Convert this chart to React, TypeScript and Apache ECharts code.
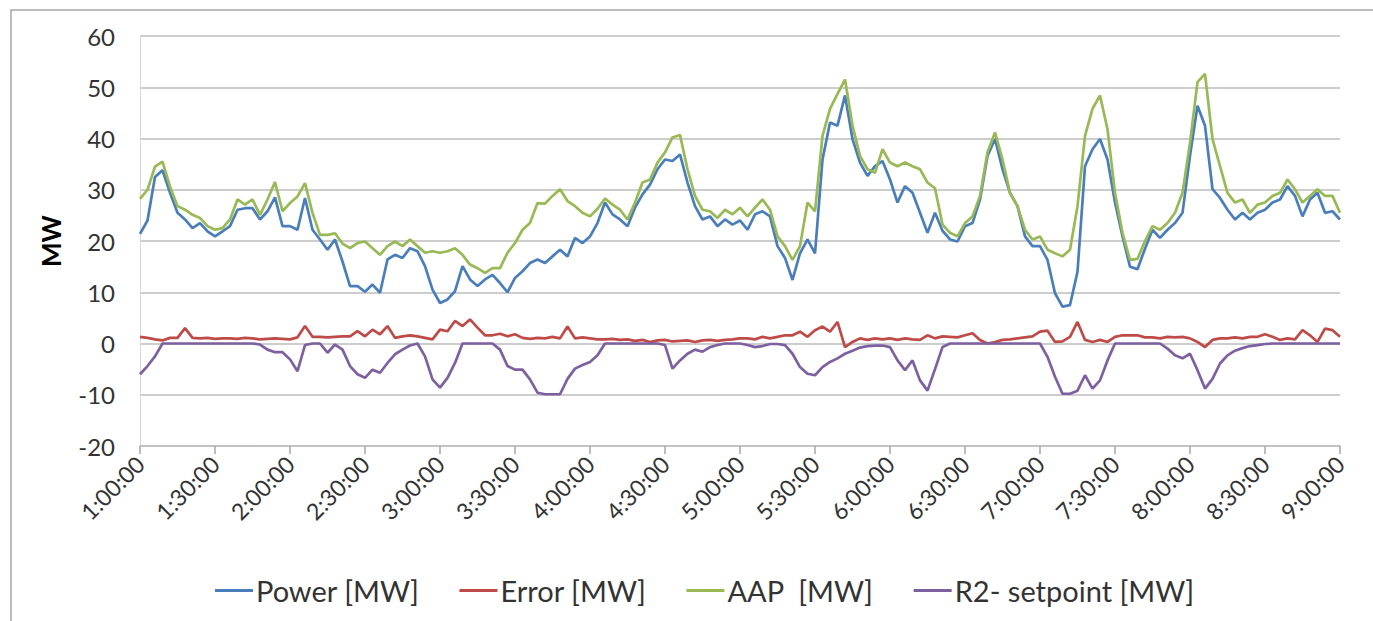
import React, { useEffect, useRef } from "react";
import * as echarts from "echarts";

// 3-minute samples from 1:00:00 to 9:00:00 (161 points)
const power = [
  21.4, 24.0, 32.5, 33.8, 29.4, 25.5, 24.2, 22.5, 23.5, 21.9,
  20.9, 21.9, 22.9, 26.1, 26.4, 26.4, 24.2, 25.8, 28.5, 22.9,
  22.9, 22.2, 28.4, 22.2, 20.3, 18.3, 20.3, 16.0, 11.2, 11.2,
  10.1, 11.5, 9.9, 16.4, 17.3, 16.7, 18.6, 18.0, 15.1, 10.5,
  7.9, 8.6, 10.2, 15.1, 12.5, 11.2, 12.5, 13.4, 11.8, 10.0,
  12.8, 14.1, 15.7, 16.4, 15.7, 17.0, 18.3, 17.0, 20.6, 19.6,
  20.9, 23.5, 27.5, 25.2, 24.2, 22.9, 26.5, 29.1, 31.0, 34.0,
  35.9, 35.6, 36.9, 31.4, 26.8, 24.2, 24.8, 22.9, 24.2, 23.2,
  24.0, 22.2, 25.2, 25.8, 24.8, 19.0, 16.7, 12.4, 17.6, 20.3,
  17.6, 35.9, 43.1, 42.5, 48.4, 39.9, 35.3, 32.7, 34.6, 35.6,
  32.0, 27.5, 30.7, 29.4, 25.5, 21.6, 25.5, 22.0, 20.3, 19.9,
  22.9, 23.5, 28.1, 36.6, 39.9, 34.0, 29.4, 26.8, 20.9, 19.0,
  19.0, 16.3, 9.8, 7.2, 7.5, 14.0, 34.6, 37.9, 39.9, 35.9,
  27.5, 20.9, 15.0, 14.5, 18.5, 22.2, 20.6, 22.2, 23.5, 25.5,
  36.6, 46.4, 42.5, 30.1, 28.4, 26.1, 24.2, 25.5, 24.2, 25.5,
  26.1, 27.5, 28.1, 30.7, 28.8, 24.8, 28.1, 29.4, 25.5, 25.8,
  24.2,
];

const errorMw = [
  1.3, 1.1, 0.8, 0.6, 1.1, 1.1, 3.0, 1.1, 1.0, 1.1,
  0.9, 1.0, 1.0, 0.9, 1.1, 1.0, 0.8, 0.9, 1.0, 0.9,
  0.8, 1.2, 3.4, 1.3, 1.3, 1.2, 1.3, 1.4, 1.4, 2.4,
  1.4, 2.7, 1.8, 3.4, 1.1, 1.4, 1.6, 1.4, 1.1, 0.8,
  2.7, 2.4, 4.4, 3.4, 4.7, 3.1, 1.6, 1.6, 1.9, 1.4,
  1.8, 1.1, 0.9, 1.1, 1.0, 1.3, 1.0, 3.3, 1.0, 1.2,
  1.0, 0.8, 0.8, 0.9, 0.7, 0.8, 0.5, 0.7, 0.3, 0.6,
  0.7, 0.4, 0.5, 0.6, 0.3, 0.6, 0.7, 0.5, 0.7, 0.8,
  1.0, 1.0, 0.8, 1.3, 1.0, 1.3, 1.6, 1.6, 2.3, 1.3,
  2.6, 3.3, 2.3, 4.2, -0.7, 0.3, 1.0, 0.7, 1.0, 0.8,
  1.0, 0.7, 1.0, 0.8, 0.7, 1.6, 1.0, 1.4, 1.3, 1.2,
  1.6, 2.0, 0.7, 0.0, 0.3, 0.7, 0.8, 1.0, 1.2, 1.4,
  2.3, 2.5, 0.3, 0.4, 1.3, 4.2, 0.7, 0.3, 0.7, 0.3,
  1.3, 1.6, 1.6, 1.6, 1.2, 1.2, 1.0, 1.3, 1.2, 1.3,
  1.0, 0.3, -0.7, 0.7, 1.0, 1.0, 1.2, 1.0, 1.3, 1.3,
  1.8, 1.3, 0.7, 1.0, 0.8, 2.6, 1.6, 0.3, 2.9, 2.6,
  1.3,
];

const aap = [
  28.2, 30.0, 34.5, 35.5, 30.6, 26.8, 26.1, 25.1, 24.5, 22.9,
  22.2, 22.5, 24.2, 28.1, 27.1, 28.1, 25.1, 28.1, 31.5, 25.8,
  27.4, 28.7, 31.3, 25.5, 21.2, 21.2, 21.5, 19.5, 18.6, 19.6,
  19.9, 18.6, 17.3, 19.0, 19.9, 19.0, 20.3, 19.0, 17.7, 18.0,
  17.7, 18.0, 18.6, 17.3, 15.4, 14.7, 13.8, 14.7, 14.7, 17.7,
  19.6, 22.2, 23.5, 27.4, 27.3, 28.8, 30.1, 27.8, 26.8, 25.5,
  24.8, 26.3, 28.3, 27.1, 26.1, 24.2, 27.5, 31.4, 32.0, 35.3,
  37.3, 40.2, 40.7, 34.0, 28.8, 26.1, 25.8, 24.5, 26.1, 25.2,
  26.5, 24.8, 26.5, 28.1, 26.1, 20.9, 19.0, 16.3, 19.0, 27.5,
  25.8, 40.5, 45.8, 48.7, 51.5, 42.5, 36.6, 34.0, 33.3, 37.9,
  35.3, 34.6, 35.3, 34.6, 34.0, 31.4, 30.3, 23.2, 21.6, 20.9,
  23.5, 24.8, 28.8, 37.3, 41.2, 35.9, 29.4, 26.8, 22.2, 20.3,
  20.9, 18.3, 17.6, 17.0, 18.3, 26.8, 40.5, 45.8, 48.4, 41.8,
  29.4, 21.6, 16.3, 16.5, 20.0, 22.9, 22.2, 23.5, 25.5, 29.4,
  39.2, 51.0, 52.6, 39.9, 34.6, 29.4, 27.5, 28.1, 25.5, 27.1,
  27.5, 28.8, 29.4, 32.0, 30.1, 27.5, 28.8, 30.1, 28.8, 28.8,
  25.5,
];

const r2Setpoint = [
  -6.0, -4.4, -2.5, 0, 0, 0, 0, 0, 0, 0,
  0, 0, 0, 0, 0, 0, -0.2, -1.2, -1.7, -1.7,
  -3.1, -5.4, -0.3, 0, 0, -1.8, -0.2, -1.2, -4.4, -6.0,
  -6.7, -5.1, -5.7, -3.8, -2.1, -1.2, -0.4, 0, -2.5, -7.0,
  -8.6, -6.7, -3.8, 0, 0, 0, 0, 0, -1.2, -4.4,
  -5.1, -5.1, -7.0, -9.6, -9.9, -9.9, -9.9, -6.9, -4.9, -4.2,
  -3.6, -2.3, 0, 0, 0, 0, 0, 0, 0, 0,
  -0.3, -4.9, -3.3, -2.0, -1.2, -1.6, -0.7, -0.3, 0, 0,
  0, -0.3, -0.7, -0.5, -0.1, -0.1, -0.3, -2.0, -4.6, -5.9,
  -6.2, -4.6, -3.6, -2.9, -2.0, -1.4, -0.8, -0.5, -0.4, -0.4,
  -0.7, -3.3, -5.2, -3.3, -7.2, -9.2, -5.0, -0.7, 0, 0,
  0, 0, 0, 0, 0, 0, 0, 0, 0, 0,
  0, -2.6, -6.5, -9.8, -9.8, -9.2, -6.2, -8.8, -7.2, -3.3,
  0, 0, 0, 0, 0, 0, 0, -1.0, -2.3, -2.9,
  -2.0, -5.2, -8.8, -6.9, -3.9, -2.3, -1.4, -0.9, -0.5, -0.3,
  -0.1, 0, 0, 0, 0, 0, 0, 0, 0, 0,
  0,
];

const seriesNames = ["Power [MW]", "Error [MW]", "AAP  [MW]", "R2- setpoint [MW]"];
const seriesColors = ["#4a7ebb", "#be4b48", "#98b954", "#7d60a0"];

// category labels: every 3 minutes from 1:00:00 to 9:00:00
const startHour = 1;
const stepMinutes = 3;
const times: string[] = power.map((_, i) => {
  const total = startHour * 60 + i * stepMinutes;
  const h = Math.floor(total / 60);
  const m = total % 60;
  return `${h}:${String(m).padStart(2, "0")}:00`;
});

const FONT = "Lato, 'Open Sans', 'DejaVu Sans', sans-serif";

export default function App() {
  const ref = useRef<HTMLDivElement>(null);

  useEffect(() => {
    if (!ref.current) return;
    const chart = echarts.init(ref.current, undefined, { renderer: "svg" });
    const allData = [power, errorMw, aap, r2Setpoint];
    chart.setOption({
      animation: false,
      backgroundColor: "#ffffff",
      textStyle: { fontFamily: FONT },
      graphic: [
        {
          type: "rect",
          shape: { x: 11, y: 10, width: 1400, height: 700 },
          style: { fill: "none", stroke: "#a6a6a6", lineWidth: 1.5 },
          silent: true,
          z: -1,
        },
      ],
      grid: { left: 140, right: 33, top: 36, bottom: 175, containLabel: false },
      legend: {
        left: 210,
        top: 571,
        icon: "rect",
        itemWidth: 38,
        itemHeight: 3,
        itemGap: 40,
        data: seriesNames,
        textStyle: { fontFamily: FONT, fontSize: 29, color: "#333333", padding: [0, 0, 0, -2] },
      },
      xAxis: {
        type: "category",
        data: times,
        boundaryGap: false,
        axisLine: { onZero: false, lineStyle: { color: "#bfbfbf", width: 1.5 } },
        axisTick: { show: true, interval: 9, length: 8, lineStyle: { color: "#a6a6a6", width: 1.5 } },
        axisLabel: {
          interval: 9,
          rotate: 45,
          fontSize: 23,
          color: "#333333",
          margin: 14,
          fontFamily: FONT,
        },
        splitLine: { show: false },
      },
      yAxis: {
        type: "value",
        min: -20,
        max: 60,
        interval: 10,
        name: "MW",
        nameLocation: "middle",
        nameRotate: 90,
        nameGap: 76,
        nameTextStyle: { fontFamily: FONT, fontSize: 26, fontWeight: "bold", color: "#000000" },
        axisLine: { show: true, lineStyle: { color: "#d9d9d9", width: 1 } },
        axisTick: { show: false },
        axisLabel: { fontSize: 24, color: "#333333", margin: 25, fontFamily: FONT },
        splitLine: { lineStyle: { color: "#bdbdbd", width: 1.5 } },
      },
      series: allData.map((d, k) => ({
        name: seriesNames[k],
        type: "line",
        data: d,
        symbol: "none",
        showSymbol: false,
        lineStyle: { color: seriesColors[k], width: 2.7 },
        itemStyle: { color: seriesColors[k] },
      })),
    });
    return () => chart.dispose();
  }, []);

  return (
    <div
      ref={ref}
      style={{ position: "absolute", left: 0, top: 0, width: 1373, height: 621 }}
    />
  );
}
